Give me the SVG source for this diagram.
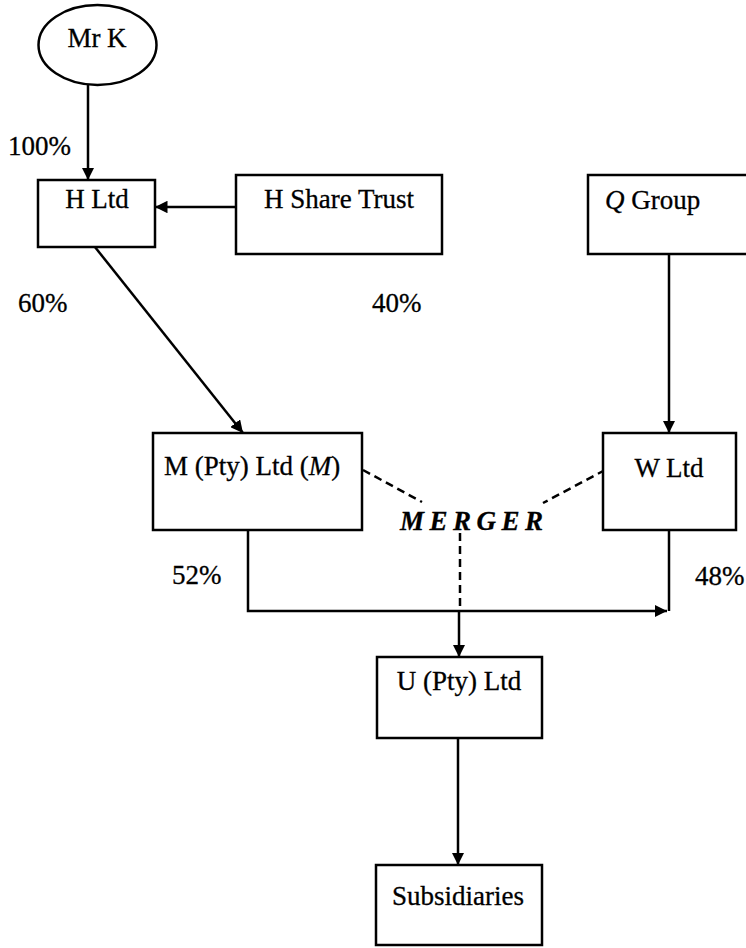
<svg xmlns="http://www.w3.org/2000/svg" width="746" height="948" viewBox="0 0 746 948">
<defs>
<style>
.box{fill:#fff;stroke:#000;stroke-width:2.5}
.t{font-family:"Liberation Serif","Times New Roman",serif;font-size:27px;fill:#000;stroke:#000;stroke-width:0.3}
.c{text-anchor:middle}
.ln{fill:none;stroke:#000;stroke-width:2.5}
.dash{fill:none;stroke:#000;stroke-width:2.5;stroke-dasharray:8 5}
</style>
<marker id="ah" viewBox="0 0 10 10" refX="10" refY="5" markerWidth="5" markerHeight="5" orient="auto" markerUnits="strokeWidth">
<path d="M0,0 L10,5 L0,10 z" fill="#000"/>
</marker>
</defs>
<rect width="746" height="948" fill="#fff"/>
<g id="connectors">
<line class="ln" x1="88" y1="85" x2="88" y2="180" marker-end="url(#ah)"/>
<line class="ln" x1="236" y1="207" x2="155" y2="207" marker-end="url(#ah)"/>
<line class="ln" x1="87" y1="237" x2="243" y2="433" marker-end="url(#ah)"/>
<line class="ln" x1="669" y1="254" x2="669" y2="433" marker-end="url(#ah)"/>
<polyline class="ln" points="248,530 248,611 667,611" marker-end="url(#ah)"/>
<line class="ln" x1="669" y1="530" x2="669" y2="611"/>
<line class="dash" x1="363" y1="470" x2="422" y2="502"/>
<line class="dash" x1="605" y1="470" x2="543" y2="503"/>
<line class="dash" x1="460" y1="533" x2="460" y2="611"/>
<line class="ln" x1="459" y1="611" x2="459" y2="657" marker-end="url(#ah)"/>
<line class="ln" x1="458" y1="738" x2="458" y2="865" marker-end="url(#ah)"/>
</g>
<g id="mrk"><ellipse class="box" cx="97.5" cy="45" rx="59" ry="40"/><text class="t c" x="97" y="47">Mr K</text></g>
<g id="hltd"><rect class="box" x="38" y="180" width="117" height="67"/><text class="t c" x="97" y="208">H Ltd</text></g>
<g id="hsharetrust"><rect class="box" x="236" y="175" width="206" height="79"/><text class="t c" x="339" y="208">H Share Trust</text></g>
<g id="qgroup"><rect class="box" x="588" y="175" width="170" height="79"/><text class="t" x="605" y="209"><tspan font-style="italic">Q</tspan> Group</text></g>
<g id="mptyltd"><rect class="box" x="153" y="433" width="209" height="97"/><text class="t" x="164" y="475">M (Pty) Ltd (<tspan font-style="italic">M</tspan>)</text></g>
<g id="wltd"><rect class="box" x="603" y="433" width="133" height="97"/><text class="t c" x="669" y="477">W Ltd</text></g>
<g id="uptyltd"><rect class="box" x="377" y="657" width="165" height="81"/><text class="t c" x="459" y="690">U (Pty) Ltd</text></g>
<g id="subsidiaries"><rect class="box" x="376" y="865" width="166" height="80"/><text class="t c" x="458" y="905">Subsidiaries</text></g>
<g id="labels">
<text class="t" x="8" y="155">100%</text>
<text class="t" x="18" y="312">60%</text>
<text class="t" x="372" y="312">40%</text>
<text class="t" x="172" y="584">52%</text>
<text class="t" x="695" y="585">48%</text>
<text class="t" x="400" y="530" font-size="28" font-weight="bold" font-style="italic" letter-spacing="5.5">MERGER</text>
</g>
</svg>
